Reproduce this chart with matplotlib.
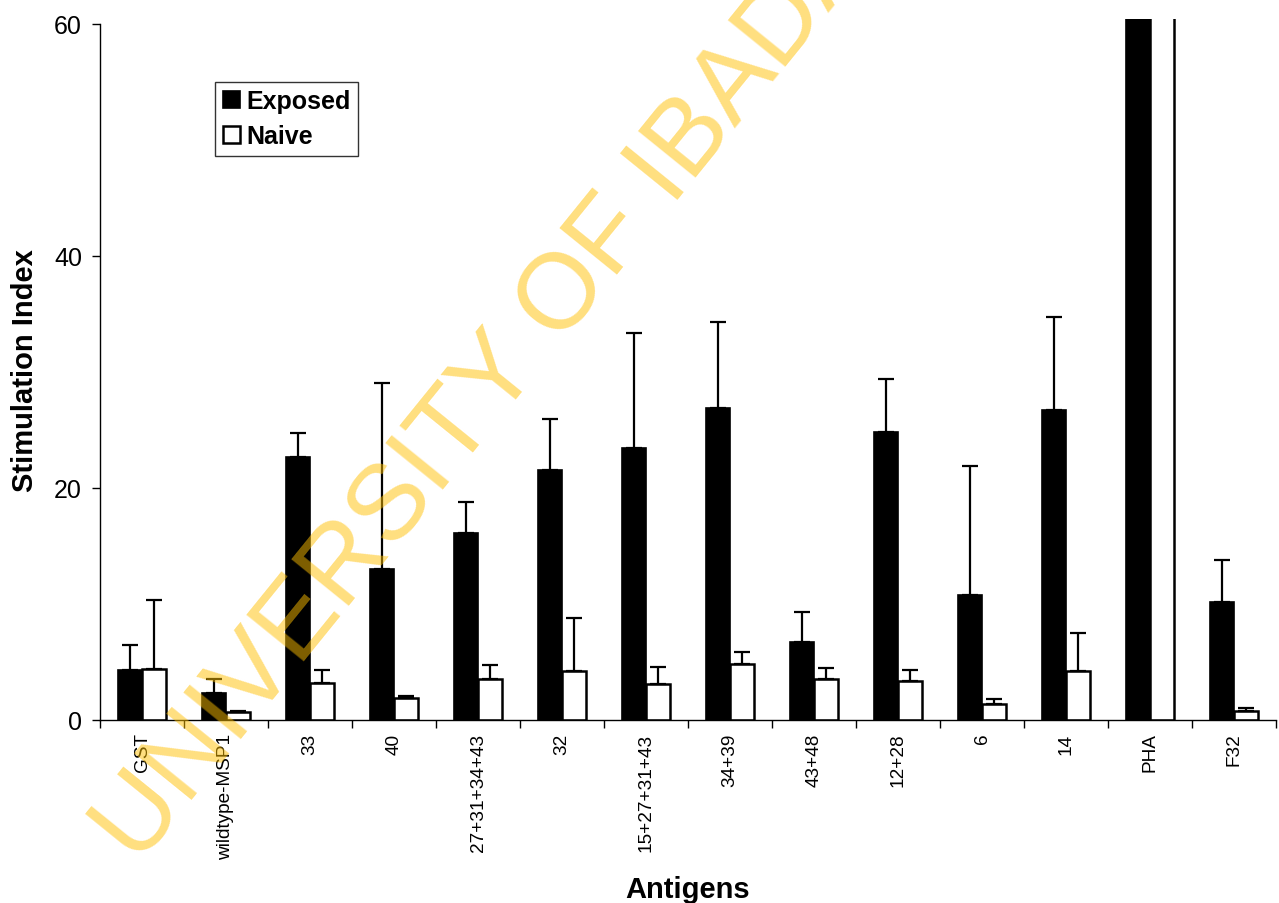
import matplotlib
matplotlib.use("Agg")
import matplotlib.pyplot as plt
import numpy as np

plt.rcParams["font.family"] = ["Liberation Sans", "DejaVu Sans"]

antigens = ["GST", "wildtype-MSP1", "33", "40", "27+31+34+43", "32",
            "15+27+31+43", "34+39", "43+48", "12+28", "6", "14", "PHA", "F32"]

# mean stimulation index (PHA runs far off the top of the scale)
exposed = [4.3, 2.3, 22.7, 13.0, 16.1, 21.5, 23.4, 26.9, 6.7, 24.8, 10.8, 26.7, 150.0, 10.2]
naive = [4.4, 0.66, 3.2, 1.86, 3.5, 4.2, 3.1, 4.85, 3.5, 3.4, 1.34, 4.2, 100.0, 0.77]

# upper error (SD)
exposed_err = [2.2, 1.2, 2.0, 16.0, 2.7, 4.4, 9.9, 7.4, 2.6, 4.6, 11.1, 8.0, 0.0, 3.6]
naive_err = [5.9, 0.15, 1.1, 0.25, 1.2, 4.6, 1.5, 1.0, 1.0, 0.9, 0.45, 3.3, 0.0, 0.25]

x = np.arange(len(antigens))
w = 0.29

fig = plt.figure(figsize=(12.79, 9.04), dpi=100)
ax = fig.add_axes([100 / 1279, 1 - 721 / 904, 1176 / 1279, 701.4 / 904])

ax.bar(x - w / 2, exposed, w, color="black", edgecolor="black", linewidth=1.2,
       yerr=[np.zeros(len(x)), exposed_err],
       error_kw=dict(ecolor="black", elinewidth=1.6, capsize=6, capthick=1.6),
       label="Exposed", zorder=2)
ax.bar(x + w / 2, naive, w, color="white", edgecolor="black", linewidth=1.8,
       yerr=[np.zeros(len(x)), naive_err],
       error_kw=dict(ecolor="black", elinewidth=1.6, capsize=6, capthick=1.6),
       label="Naive", zorder=2)

ax.set_xlim(-0.5, len(x) - 0.5)
ax.set_ylim(0, 60.43)
ax.set_yticks([0, 20, 40, 60])
ax.spines["left"].set_bounds(0, 60)
ax.spines["top"].set_visible(False)
ax.spines["right"].set_visible(False)
ax.spines["left"].set_linewidth(1.0)
ax.spines["bottom"].set_linewidth(1.0)

ax.set_xticks(x)
ax.set_xticklabels(antigens, rotation=90, fontsize=13.7, va="top")
ax.set_xticks(np.arange(len(x) + 1) - 0.5, minor=True)
ax.tick_params(axis="x", which="major", length=0, pad=9)
ax.tick_params(axis="x", which="minor", length=6, width=1, direction="out")
ax.tick_params(axis="y", length=6, width=1, direction="out", labelsize=18, pad=7)

ax.set_ylabel("Stimulation Index", fontsize=21, fontweight="bold", labelpad=11)
ax.set_xlabel("Antigens", fontsize=21, fontweight="bold", labelpad=12)

leg = ax.legend(loc="upper left", bbox_to_anchor=(115 / 1176, 1 - 63 / 701.4),
                frameon=True, fancybox=False, fontsize=18, handlelength=0.7,
                handleheight=0.7, handletextpad=0.25, borderpad=0.3,
                labelspacing=0.45, borderaxespad=0)
leg.get_frame().set_edgecolor("black")
leg.get_frame().set_linewidth(1.0)
for t in leg.get_texts():
    t.set_fontweight("bold")

# watermark
fig.text(138 / 1279, 1 - 866 / 904, "UNIVERSITY OF IBADAN", fontsize=77,
         color=(1.0, 0.75, 0.0), alpha=0.5, rotation=51, rotation_mode="anchor",
         ha="left", va="baseline", zorder=10)

fig.savefig("out.png", dpi=100)
